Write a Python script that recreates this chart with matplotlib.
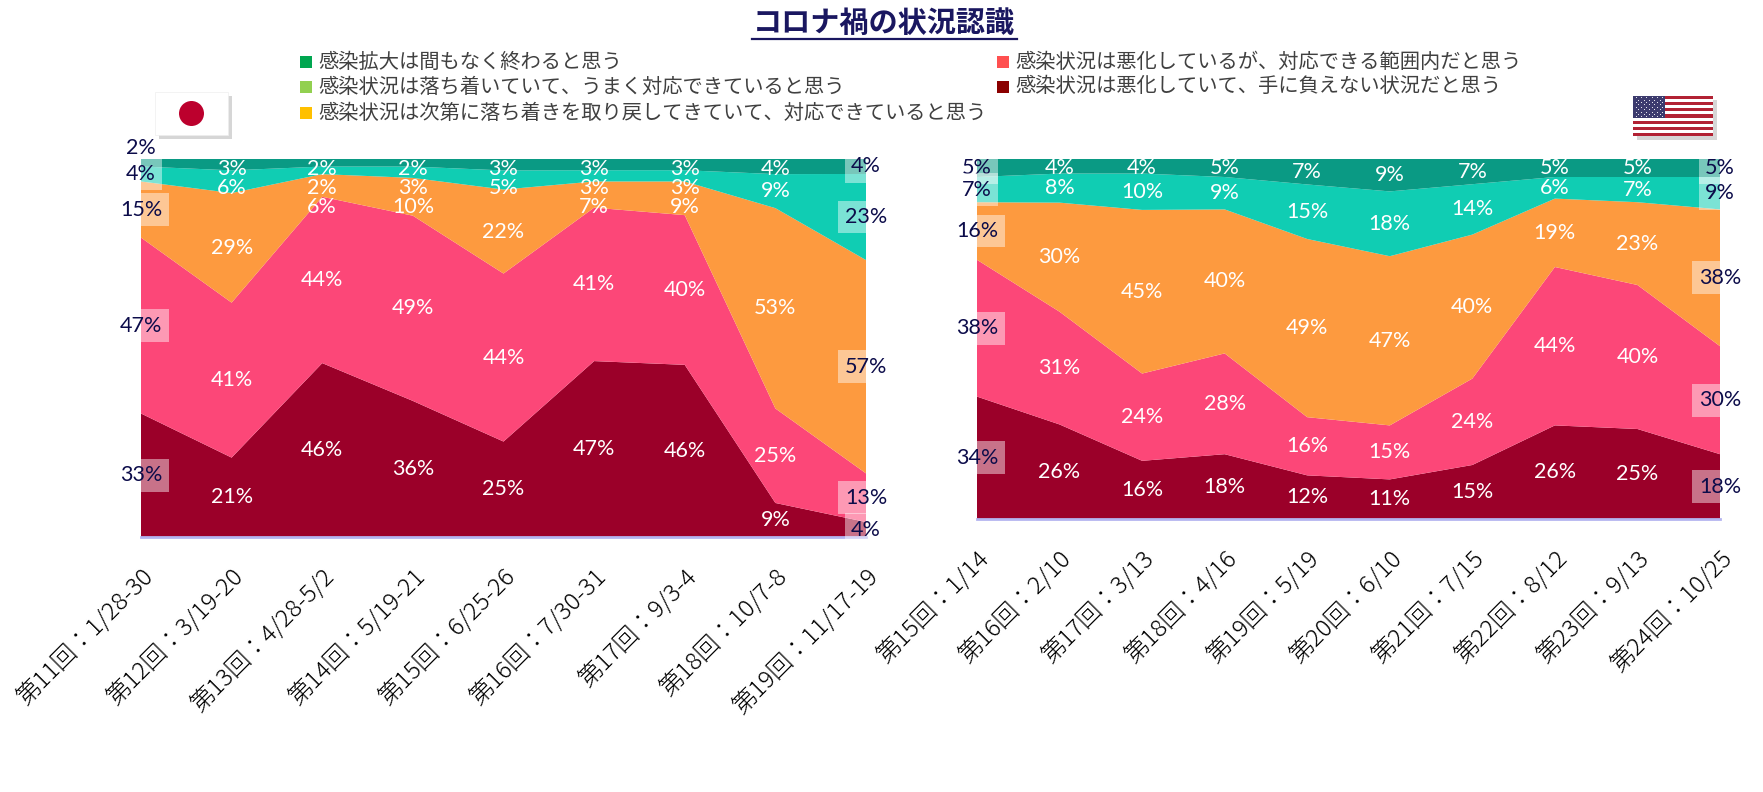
import matplotlib
matplotlib.use("Agg")
import matplotlib.pyplot as plt
import numpy as np
from matplotlib.patches import Rectangle, Circle

plt.rcParams['font.family'] = ['Noto Sans CJK JP', 'DejaVu Sans']

# ---------------- data ----------------
series_names = [
    "感染状況は悪化していて、手に負えない状況だと思う",
    "感染状況は悪化しているが、対応できる範囲内だと思う",
    "感染状況は次第に落ち着きを取り戻してきていて、対応できていると思う",
    "感染状況は落ち着いていて、うまく対応できていると思う",
    "感染拡大は間もなく終わると思う",
]
area_colors = ["#9B0029", "#FC4778", "#FD9A3F", "#10CDB3", "#0A9A84"]
legend_colors = ["#8B0000", "#FF5050", "#FFC000", "#92D050", "#00A650"]

jp_labels = ["第11回：1/28-30", "第12回：3/19-20", "第13回：4/28-5/2", "第14回：5/19-21",
             "第15回：6/25-26", "第16回：7/30-31", "第17回：9/3-4", "第18回：10/7-8",
             "第19回：11/17-19"]
jp_unmanageable = [33, 21, 46, 36, 25, 47, 46, 9, 4]
jp_manageable   = [47, 41, 44, 49, 44, 41, 40, 25, 13]
jp_calming      = [15, 29, 6, 10, 22, 7, 9, 53, 57]
jp_wellhandled  = [4, 6, 2, 3, 5, 3, 3, 9, 23]
jp_endingsoon   = [2, 3, 2, 2, 3, 3, 3, 4, 4]

us_labels = ["第15回：1/14", "第16回：2/10", "第17回：3/13", "第18回：4/16", "第19回：5/19",
             "第20回：6/10", "第21回：7/15", "第22回：8/12", "第23回：9/13", "第24回：10/25"]
us_unmanageable = [34, 26, 16, 18, 12, 11, 15, 26, 25, 18]
us_manageable   = [38, 31, 24, 28, 16, 15, 24, 44, 40, 30]
us_calming      = [16, 30, 45, 40, 49, 47, 40, 19, 23, 38]
us_wellhandled  = [7, 8, 10, 9, 15, 18, 14, 6, 7, 9]
us_endingsoon   = [5, 4, 4, 5, 7, 9, 7, 5, 5, 5]

W, H = 1763, 792
fig = plt.figure(figsize=(W / 100, H / 100), dpi=100)

NAVY = "#0C0C4A"
NUMFONT = ['Lato', 'DejaVu Sans']
NUMSIZE = 15.5


def draw_panel(rect, labels, series):
    ax = fig.add_axes(rect)
    vals = np.array(series, dtype=float)
    n = vals.shape[1]
    m = vals.shape[0]
    x = np.arange(n)
    shares = vals / vals.sum(axis=0) * 100.0   # 100% stacked area
    ax.stackplot(x, shares, colors=area_colors, linewidth=0)
    ax.set_xlim(0, n - 1)
    ax.set_ylim(0, 100)
    for s in ax.spines.values():
        s.set_visible(False)
    ax.axhline(0, color="#B4B4F0", lw=2, zorder=5, clip_on=False)
    ax.set_yticks([])
    ax.set_xticks(x)
    ax.set_xticklabels(labels, rotation=45, ha='right', va='top',
                       rotation_mode='anchor', fontsize=17.5, color='black',
                       fontweight='light')
    ax.tick_params(axis='x', length=0, pad=19)

    # label height in data units (to keep small top labels apart)
    ax_h_px = rect[3] * H
    sep = 19.0 / ax_h_px * 100.0

    cum = np.cumsum(shares, axis=0)
    for i in range(n):
        edge = (i == 0 or i == n - 1)
        prev = None
        for j in range(m - 1, -1, -1):
            lo = cum[j, i] - shares[j, i]
            yc = lo + shares[j, i] / 2
            txt = f"{int(vals[j, i])}%"
            if edge:
                if j == m - 1 and vals[j, i] < 3:
                    ax.text(i, 103, txt, ha='center', va='center', fontsize=NUMSIZE,
                            family=NUMFONT, color=NAVY, clip_on=False, zorder=6)
                    continue
                ax.text(i, yc, txt, ha='center', va='center', fontsize=NUMSIZE,
                        family=NUMFONT, color=NAVY, clip_on=False, zorder=6,
                        bbox=dict(boxstyle='square,pad=0.3', fc='white', ec='none', alpha=0.45))
            else:
                yc = min(yc, 97.4)
                if prev is not None:
                    yc = min(yc, prev - sep)
                prev = yc
                ax.text(i, yc, txt, ha='center', va='center', fontsize=NUMSIZE,
                        family=NUMFONT, color='white', clip_on=False, zorder=6)
    return ax


jp_series = [jp_unmanageable, jp_manageable, jp_calming, jp_wellhandled, jp_endingsoon]
us_series = [us_unmanageable, us_manageable, us_calming, us_wellhandled, us_endingsoon]

draw_panel([141 / W, 1 - 537 / H, (866 - 141) / W, (537 - 159) / H], jp_labels, jp_series)
draw_panel([977 / W, 1 - 519 / H, (1720 - 977) / W, (519 - 159) / H], us_labels, us_series)

# ---------------- overlay (title, legend, flags) in pixel coords ----------------
ov = fig.add_axes([0, 0, 1, 1], zorder=10)
ov.set_xlim(0, W)
ov.set_ylim(H, 0)
ov.axis('off')
ov.patch.set_alpha(0)

ov.text(884, 23, "コロナ禍の状況認識", ha='center', va='center', fontsize=21,
        fontweight='bold', color="#1A1760")
ov.plot([752, 1017], [39, 39], color="#1A1760", lw=1.6)

legend_pos = {4: (306, 62), 3: (306, 87), 2: (306, 113), 1: (1003, 62), 0: (1003, 87)}
for j, (lx, ly) in legend_pos.items():
    ov.add_patch(Rectangle((lx - 6, ly - 6), 12, 12, fc=legend_colors[j], ec='none'))
    ov.text(lx + 12, ly, series_names[j], ha='left', va='center', fontsize=14.6, color="#404040")

# Japan flag
ov.add_patch(Rectangle((159, 96), 73, 43, fc="#BBBBBB", ec='none', alpha=0.6))
ov.add_patch(Rectangle((155, 92), 73, 43, fc="white", ec="#EEEEEE", lw=0.5))
ov.add_patch(Circle((191.5, 113.5), 12.5, fc="#BC002D", ec='none'))

# US flag
fx, fy, fw, fh = 1633, 96, 80, 40
ov.add_patch(Rectangle((fx + 4, fy + 4), fw, fh, fc="#BBBBBB", ec='none', alpha=0.6))
sh = fh / 13.0
for k in range(13):
    ov.add_patch(Rectangle((fx, fy + k * sh), fw, sh,
                           fc="#B22234" if k % 2 == 0 else "white", ec='none'))
cw, ch = fw * 0.4, sh * 7
ov.add_patch(Rectangle((fx, fy), cw, ch, fc="#3C3B6E", ec='none'))
sx, sy = [], []
for r in range(9):
    cols = 6 if r % 2 == 0 else 5
    for c in range(cols):
        off = 0 if r % 2 == 0 else 0.5
        sx.append(fx + cw * (c + 0.5 + off) / 6.0)
        sy.append(fy + ch * (r + 0.5) / 9.0)
ov.scatter(sx, sy, s=0.6, c='white', marker='o', linewidths=0)

fig.savefig("out.png", dpi=100, facecolor='white')
